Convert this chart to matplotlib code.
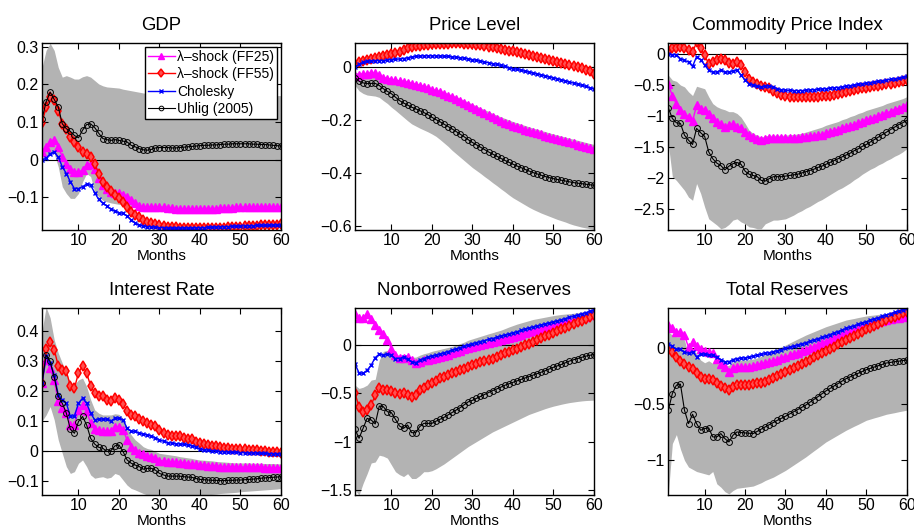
import numpy as np
import matplotlib
matplotlib.use("Agg")
import matplotlib.pyplot as plt
from matplotlib.ticker import FuncFormatter

plt.rcParams['font.family'] = ['Liberation Sans', 'DejaVu Sans']

months = np.arange(1, 61)
series_names = ['\u03bb\u2013shock (FF25)', '\u03bb\u2013shock (FF55)', 'Cholesky', 'Uhlig (2005)']

# ---- GDP
gdp_ff25 = [0.020, 0.034, 0.047, 0.051, 0.034, 0.007, -0.011, -0.024, -0.033, -0.033,
            -0.028, -0.015, -0.012, -0.024, -0.050, -0.068, -0.077, -0.086, -0.088, -0.090,
            -0.094, -0.100, -0.108, -0.116, -0.123, -0.127, -0.127, -0.127, -0.127, -0.127,
            -0.127, -0.128, -0.129, -0.131, -0.132, -0.132, -0.132, -0.132, -0.131, -0.131,
            -0.130, -0.130, -0.130, -0.130, -0.129, -0.129, -0.128, -0.128, -0.127, -0.127,
            -0.127, -0.126, -0.126, -0.126, -0.125, -0.125, -0.125, -0.125, -0.126, -0.127]
gdp_ff55 = [0.097, 0.140, 0.166, 0.157, 0.130, 0.095, 0.082, 0.060, 0.047, 0.034,
            0.020, 0.014, 0.007, -0.011, -0.037, -0.059, -0.072, -0.083, -0.094, -0.103,
            -0.112, -0.125, -0.138, -0.147, -0.153, -0.160, -0.165, -0.169, -0.171, -0.175,
            -0.177, -0.178, -0.179, -0.180, -0.181, -0.182, -0.183, -0.183, -0.183, -0.183,
            -0.183, -0.183, -0.183, -0.182, -0.182, -0.181, -0.180, -0.179, -0.178, -0.178,
            -0.177, -0.177, -0.176, -0.176, -0.175, -0.175, -0.174, -0.174, -0.173, -0.172]
gdp_chol = [0.000, 0.003, 0.016, 0.020, 0.007, -0.019, -0.037, -0.059, -0.077, -0.077,
            -0.072, -0.065, -0.068, -0.088, -0.106, -0.116, -0.123, -0.132, -0.136, -0.141,
            -0.143, -0.150, -0.160, -0.168, -0.174, -0.176, -0.178, -0.179, -0.180, -0.181,
            -0.181, -0.182, -0.182, -0.182, -0.182, -0.182, -0.182, -0.182, -0.181, -0.181,
            -0.181, -0.180, -0.180, -0.179, -0.179, -0.178, -0.178, -0.177, -0.177, -0.177,
            -0.176, -0.176, -0.176, -0.175, -0.175, -0.175, -0.175, -0.174, -0.174, -0.174]
gdp_uhlig = [0.108, 0.153, 0.179, 0.160, 0.140, 0.095, 0.082, 0.075, 0.064, 0.058,
             0.078, 0.093, 0.095, 0.085, 0.070, 0.056, 0.053, 0.051, 0.053, 0.051,
             0.049, 0.047, 0.038, 0.034, 0.029, 0.026, 0.025, 0.027, 0.031, 0.032,
             0.032, 0.032, 0.031, 0.031, 0.032, 0.033, 0.034, 0.035, 0.036, 0.037,
             0.038, 0.038, 0.039, 0.039, 0.040, 0.041, 0.041, 0.042, 0.042, 0.042,
             0.042, 0.042, 0.041, 0.041, 0.040, 0.040, 0.039, 0.038, 0.037, 0.036]
gdp_hi = [0.245, 0.290, 0.309, 0.290, 0.245, 0.219, 0.223, 0.219, 0.214, 0.214,
          0.220, 0.223, 0.219, 0.210, 0.201, 0.196, 0.193, 0.192, 0.191, 0.190,
          0.187, 0.185, 0.183, 0.181, 0.179, 0.177, 0.176, 0.175, 0.175, 0.174,
          0.174, 0.173, 0.173, 0.172, 0.172, 0.172, 0.171, 0.171, 0.171, 0.171,
          0.171, 0.170, 0.170, 0.170, 0.170, 0.170, 0.170, 0.170, 0.170, 0.170,
          0.170, 0.170, 0.170, 0.170, 0.170, 0.170, 0.170, 0.170, 0.170, 0.170]
gdp_lo = [0.007, 0.005, 0.016, 0.016, -0.019, -0.072, -0.090, -0.103, -0.103, -0.090,
          -0.059, -0.037, -0.045, -0.086, -0.099, -0.108, -0.112, -0.115, -0.117, -0.119,
          -0.121, -0.123, -0.125, -0.127, -0.129, -0.131, -0.132, -0.133, -0.134, -0.134,
          -0.135, -0.135, -0.135, -0.136, -0.136, -0.136, -0.136, -0.136, -0.136, -0.136,
          -0.136, -0.136, -0.136, -0.136, -0.136, -0.136, -0.136, -0.136, -0.135, -0.135,
          -0.135, -0.135, -0.135, -0.135, -0.134, -0.134, -0.134, -0.134, -0.134, -0.134]

# ---- Price Level
price_ff25 = [-0.035, -0.030, -0.027, -0.025, -0.023, -0.023, -0.030, -0.040, -0.044, -0.048,
              -0.050, -0.053, -0.056, -0.059, -0.063, -0.067, -0.071, -0.075, -0.080, -0.086,
              -0.091, -0.096, -0.102, -0.108, -0.114, -0.121, -0.129, -0.136, -0.144, -0.152,
              -0.160, -0.167, -0.175, -0.183, -0.190, -0.197, -0.204, -0.210, -0.216, -0.222,
              -0.227, -0.232, -0.237, -0.242, -0.247, -0.251, -0.255, -0.260, -0.264, -0.268,
              -0.272, -0.276, -0.281, -0.285, -0.289, -0.293, -0.297, -0.301, -0.306, -0.310]
price_ff55 = [0.012, 0.018, 0.022, 0.026, 0.030, 0.033, 0.036, 0.040, 0.044, 0.048,
              0.052, 0.058, 0.064, 0.070, 0.075, 0.078, 0.080, 0.082, 0.084, 0.085,
              0.086, 0.087, 0.088, 0.088, 0.089, 0.089, 0.089, 0.088, 0.087, 0.086,
              0.084, 0.082, 0.080, 0.077, 0.074, 0.071, 0.068, 0.065, 0.062, 0.059,
              0.056, 0.052, 0.049, 0.045, 0.042, 0.038, 0.035, 0.031, 0.027, 0.024,
              0.020, 0.016, 0.012, 0.009, 0.005, 0.001, -0.005, -0.011, -0.017, -0.025]
price_chol = [0.000, 0.010, 0.017, 0.021, 0.023, 0.024, 0.024, 0.024, 0.026, 0.028,
              0.029, 0.030, 0.032, 0.035, 0.038, 0.040, 0.041, 0.042, 0.042, 0.042,
              0.042, 0.041, 0.041, 0.040, 0.038, 0.037, 0.035, 0.033, 0.031, 0.028,
              0.025, 0.022, 0.019, 0.016, 0.013, 0.010, 0.006, 0.002, -0.002, -0.006,
              -0.009, -0.012, -0.016, -0.019, -0.023, -0.026, -0.030, -0.033, -0.037, -0.040,
              -0.044, -0.048, -0.052, -0.057, -0.061, -0.065, -0.069, -0.073, -0.078, -0.082]
price_uhlig = [-0.040, -0.054, -0.060, -0.063, -0.062, -0.062, -0.070, -0.082, -0.092, -0.101,
               -0.114, -0.127, -0.136, -0.144, -0.152, -0.158, -0.165, -0.172, -0.180, -0.190,
               -0.199, -0.207, -0.216, -0.225, -0.234, -0.244, -0.254, -0.264, -0.275, -0.285,
               -0.294, -0.303, -0.312, -0.321, -0.329, -0.337, -0.345, -0.353, -0.360, -0.367,
               -0.374, -0.380, -0.387, -0.393, -0.399, -0.404, -0.409, -0.414, -0.418, -0.422,
               -0.425, -0.428, -0.431, -0.434, -0.437, -0.439, -0.441, -0.443, -0.445, -0.447]
price_hi = [-0.020, -0.022, -0.024, -0.020, -0.018, -0.020, -0.028, -0.036, -0.040, -0.044,
            -0.046, -0.048, -0.051, -0.054, -0.058, -0.061, -0.065, -0.069, -0.074, -0.079,
            -0.084, -0.089, -0.094, -0.100, -0.106, -0.112, -0.119, -0.126, -0.133, -0.140,
            -0.147, -0.154, -0.161, -0.168, -0.175, -0.182, -0.188, -0.194, -0.200, -0.206,
            -0.211, -0.216, -0.221, -0.226, -0.231, -0.235, -0.240, -0.244, -0.249, -0.253,
            -0.257, -0.261, -0.265, -0.269, -0.273, -0.277, -0.281, -0.285, -0.289, -0.292]
price_lo = [-0.070, -0.090, -0.100, -0.106, -0.108, -0.110, -0.115, -0.127, -0.138, -0.152,
            -0.164, -0.177, -0.190, -0.203, -0.215, -0.223, -0.231, -0.238, -0.245, -0.253,
            -0.262, -0.274, -0.287, -0.300, -0.315, -0.328, -0.341, -0.354, -0.367, -0.380,
            -0.391, -0.402, -0.414, -0.425, -0.437, -0.448, -0.460, -0.471, -0.483, -0.494,
            -0.503, -0.512, -0.521, -0.530, -0.538, -0.545, -0.552, -0.558, -0.564, -0.570,
            -0.576, -0.581, -0.586, -0.592, -0.597, -0.601, -0.605, -0.608, -0.611, -0.614]

# ---- Commodity Price Index
comm_ff25 = [-0.48, -0.68, -0.80, -0.90, -0.96, -1.02, -1.08, -0.83, -0.88, -0.91,
             -0.96, -1.03, -1.10, -1.13, -1.17, -1.15, -1.13, -1.17, -1.20, -1.26,
             -1.31, -1.34, -1.37, -1.38, -1.37, -1.36, -1.35, -1.35, -1.35, -1.35,
             -1.35, -1.35, -1.35, -1.34, -1.34, -1.33, -1.32, -1.31, -1.30, -1.28,
             -1.26, -1.24, -1.22, -1.20, -1.18, -1.16, -1.14, -1.12, -1.10, -1.07,
             -1.05, -1.03, -1.00, -0.98, -0.95, -0.93, -0.90, -0.88, -0.85, -0.83]
comm_ff55 = [0.03, 0.09, 0.09, 0.12, 0.09, 0.07, 0.03, 0.19, 0.09, -0.02,
             -0.16, -0.13, -0.09, -0.075, -0.10, -0.145, -0.156, -0.13, -0.18, -0.29,
             -0.40, -0.45, -0.49, -0.52, -0.53, -0.54, -0.59, -0.63, -0.66, -0.68,
             -0.69, -0.70, -0.70, -0.70, -0.70, -0.70, -0.69, -0.69, -0.68, -0.68,
             -0.67, -0.66, -0.64, -0.63, -0.61, -0.60, -0.58, -0.57, -0.55, -0.54,
             -0.53, -0.52, -0.51, -0.50, -0.49, -0.48, -0.46, -0.45, -0.44, -0.42]
comm_chol = [0.00, -0.01, -0.01, -0.075, -0.10, -0.13, -0.20, -0.04, -0.09, -0.18,
             -0.26, -0.29, -0.29, -0.26, -0.29, -0.29, -0.27, -0.26, -0.34, -0.42,
             -0.48, -0.50, -0.52, -0.53, -0.52, -0.51, -0.53, -0.56, -0.575, -0.585,
             -0.585, -0.59, -0.59, -0.59, -0.585, -0.58, -0.575, -0.57, -0.565, -0.56,
             -0.55, -0.545, -0.54, -0.53, -0.52, -0.51, -0.50, -0.49, -0.48, -0.47,
             -0.46, -0.45, -0.44, -0.43, -0.42, -0.41, -0.40, -0.39, -0.375, -0.36]
comm_uhlig = [-0.87, -1.04, -1.11, -1.12, -1.31, -1.39, -1.46, -1.20, -1.27, -1.33,
              -1.58, -1.69, -1.76, -1.80, -1.87, -1.81, -1.77, -1.75, -1.78, -1.89,
              -1.94, -1.96, -1.98, -2.04, -2.05, -2.01, -1.98, -1.98, -1.98, -1.97,
              -1.96, -1.95, -1.94, -1.92, -1.90, -1.88, -1.86, -1.83, -1.81, -1.78,
              -1.75, -1.72, -1.69, -1.66, -1.63, -1.60, -1.56, -1.53, -1.49, -1.46,
              -1.42, -1.38, -1.34, -1.30, -1.26, -1.22, -1.18, -1.14, -1.11, -1.07]
comm_hi = [-0.34, -0.42, -0.44, -0.50, -0.53, -0.61, -0.67, -0.52, -0.54, -0.56,
           -0.69, -0.80, -0.85, -0.88, -0.90, -0.93, -0.93, -0.96, -1.02, -1.12,
           -1.23, -1.28, -1.31, -1.34, -1.32, -1.31, -1.31, -1.31, -1.31, -1.31,
           -1.30, -1.30, -1.29, -1.28, -1.26, -1.24, -1.22, -1.20, -1.18, -1.15,
           -1.13, -1.11, -1.09, -1.06, -1.04, -1.01, -0.99, -0.96, -0.94, -0.91,
           -0.89, -0.87, -0.85, -0.83, -0.80, -0.78, -0.76, -0.74, -0.72, -0.69]
comm_lo = [-1.45, -1.98, -2.04, -2.12, -2.20, -2.31, -2.36, -2.09, -2.25, -2.47,
           -2.66, -2.71, -2.76, -2.82, -2.80, -2.75, -2.68, -2.66, -2.71, -2.74,
           -2.79, -2.80, -2.82, -2.82, -2.74, -2.71, -2.68, -2.68, -2.67, -2.66,
           -2.63, -2.60, -2.56, -2.53, -2.49, -2.46, -2.42, -2.38, -2.35, -2.31,
           -2.27, -2.23, -2.19, -2.16, -2.12, -2.08, -2.03, -1.99, -1.94, -1.90,
           -1.86, -1.83, -1.79, -1.76, -1.72, -1.69, -1.65, -1.62, -1.58, -1.53]

# ---- Interest Rate
rate_ff25 = [0.226, 0.304, 0.276, 0.237, 0.165, 0.143, 0.126, 0.087, 0.087, 0.137,
             0.154, 0.132, 0.093, 0.072, 0.070, 0.065, 0.065, 0.068, 0.081, 0.081,
             0.070, 0.037, 0.014, 0.003, -0.006, -0.010, -0.017, -0.019, -0.025, -0.032,
             -0.034, -0.036, -0.037, -0.038, -0.039, -0.041, -0.042, -0.044, -0.045, -0.047,
             -0.048, -0.049, -0.050, -0.051, -0.052, -0.053, -0.053, -0.054, -0.054, -0.055,
             -0.055, -0.055, -0.055, -0.055, -0.055, -0.056, -0.056, -0.057, -0.057, -0.058]
rate_ff55 = [0.226, 0.340, 0.362, 0.338, 0.284, 0.271, 0.265, 0.217, 0.210, 0.260,
             0.284, 0.260, 0.217, 0.193, 0.184, 0.182, 0.171, 0.165, 0.176, 0.171,
             0.157, 0.132, 0.120, 0.115, 0.106, 0.101, 0.093, 0.087, 0.084, 0.070,
             0.059, 0.054, 0.050, 0.050, 0.050, 0.042, 0.039, 0.039, 0.031, 0.026,
             0.023, 0.020, 0.017, 0.015, 0.012, 0.011, 0.009, 0.008, 0.007, 0.006,
             0.005, 0.004, 0.003, 0.002, 0.001, 0.000, -0.002, -0.003, -0.005, -0.006]
rate_chol = [0.226, 0.315, 0.293, 0.254, 0.187, 0.171, 0.159, 0.115, 0.117, 0.159,
             0.176, 0.159, 0.126, 0.104, 0.106, 0.106, 0.106, 0.100, 0.109, 0.109,
             0.104, 0.076, 0.065, 0.065, 0.059, 0.056, 0.054, 0.050, 0.044, 0.037,
             0.032, 0.028, 0.026, 0.024, 0.023, 0.022, 0.020, 0.018, 0.012, 0.006,
             0.004, 0.002, 0.001, 0.000, -0.002, -0.003, -0.004, -0.005, -0.005, -0.006,
             -0.006, -0.007, -0.007, -0.007, -0.008, -0.008, -0.009, -0.009, -0.010, -0.010]
rate_uhlig = [0.226, 0.321, 0.299, 0.246, 0.182, 0.159, 0.126, 0.072, 0.059, 0.098,
              0.115, 0.087, 0.042, 0.023, 0.012, 0.009, -0.002, 0.001, 0.017, 0.020,
              -0.002, -0.030, -0.041, -0.047, -0.052, -0.061, -0.058, -0.058, -0.064, -0.075,
              -0.080, -0.084, -0.084, -0.084, -0.084, -0.086, -0.087, -0.088, -0.092, -0.095,
              -0.096, -0.097, -0.098, -0.098, -0.099, -0.099, -0.098, -0.098, -0.097, -0.097,
              -0.096, -0.095, -0.094, -0.093, -0.091, -0.090, -0.089, -0.088, -0.087, -0.086]
rate_hi = [0.400, 0.480, 0.444, 0.371, 0.327, 0.293, 0.265, 0.221, 0.221, 0.237,
           0.243, 0.215, 0.171, 0.137, 0.126, 0.120, 0.120, 0.120, 0.124, 0.122,
           0.109, 0.076, 0.054, 0.037, 0.026, 0.014, 0.008, 0.005, -0.002, -0.008,
           -0.010, -0.012, -0.014, -0.016, -0.019, -0.021, -0.023, -0.025, -0.028, -0.030,
           -0.031, -0.032, -0.033, -0.035, -0.036, -0.037, -0.038, -0.039, -0.040, -0.040,
           -0.040, -0.040, -0.041, -0.041, -0.041, -0.042, -0.042, -0.042, -0.043, -0.043]
rate_lo = [0.100, 0.120, 0.148, 0.104, 0.037, -0.008, -0.052, -0.075, -0.069, -0.041,
           -0.030, -0.052, -0.080, -0.091, -0.088, -0.086, -0.091, -0.088, -0.075, -0.080,
           -0.097, -0.114, -0.125, -0.130, -0.136, -0.142, -0.147, -0.150, -0.150, -0.150,
           -0.150, -0.150, -0.150, -0.150, -0.150, -0.150, -0.150, -0.150, -0.149, -0.148,
           -0.147, -0.146, -0.145, -0.144, -0.142, -0.141, -0.140, -0.139, -0.138, -0.136,
           -0.135, -0.134, -0.133, -0.132, -0.131, -0.130, -0.129, -0.128, -0.127, -0.125]

# ---- Nonborrowed Reserves
nbr_ff25 = [0.318, 0.277, 0.277, 0.318, 0.267, 0.199, 0.147, 0.113, 0.045, -0.041,
            -0.110, -0.134, -0.134, -0.127, -0.161, -0.195, -0.178, -0.161, -0.155, -0.144,
            -0.136, -0.127, -0.118, -0.106, -0.092, -0.078, -0.065, -0.051, -0.038, -0.024,
            -0.014, -0.004, 0.006, 0.017, 0.027, 0.037, 0.048, 0.058, 0.069, 0.079,
            0.091, 0.103, 0.115, 0.128, 0.140, 0.152, 0.164, 0.176, 0.187, 0.199,
            0.209, 0.219, 0.229, 0.240, 0.250, 0.262, 0.274, 0.287, 0.300, 0.312]
nbr_ff55 = [-0.503, -0.640, -0.692, -0.675, -0.623, -0.521, -0.452, -0.469, -0.469, -0.476,
            -0.497, -0.510, -0.497, -0.521, -0.545, -0.521, -0.469, -0.452, -0.418, -0.394,
            -0.372, -0.349, -0.332, -0.315, -0.298, -0.281, -0.264, -0.247, -0.230, -0.212,
            -0.199, -0.185, -0.171, -0.158, -0.144, -0.127, -0.110, -0.092, -0.075, -0.058,
            -0.041, -0.024, -0.007, 0.010, 0.027, 0.046, 0.064, 0.083, 0.101, 0.120,
            0.138, 0.156, 0.173, 0.191, 0.209, 0.227, 0.246, 0.264, 0.283, 0.301]
nbr_chol = [-0.202, -0.291, -0.298, -0.264, -0.212, -0.134, -0.099, -0.110, -0.099, -0.110,
            -0.144, -0.144, -0.127, -0.154, -0.178, -0.188, -0.161, -0.144, -0.127, -0.120,
            -0.110, -0.099, -0.085, -0.072, -0.058, -0.045, -0.031, -0.017, -0.004, 0.010,
            0.020, 0.031, 0.041, 0.052, 0.062, 0.074, 0.085, 0.097, 0.108, 0.120,
            0.132, 0.145, 0.157, 0.170, 0.182, 0.192, 0.202, 0.213, 0.223, 0.233,
            0.245, 0.256, 0.268, 0.279, 0.291, 0.303, 0.316, 0.328, 0.341, 0.353]
nbr_uhlig = [-0.873, -0.966, -0.863, -0.760, -0.777, -0.818, -0.634, -0.640, -0.692, -0.702,
             -0.771, -0.839, -0.863, -0.829, -0.908, -0.908, -0.846, -0.812, -0.812, -0.812,
             -0.790, -0.770, -0.750, -0.725, -0.700, -0.675, -0.650, -0.620, -0.590, -0.575,
             -0.555, -0.535, -0.515, -0.495, -0.475, -0.458, -0.440, -0.420, -0.405, -0.390,
             -0.375, -0.360, -0.345, -0.330, -0.315, -0.300, -0.285, -0.270, -0.252, -0.235,
             -0.220, -0.205, -0.188, -0.170, -0.157, -0.145, -0.132, -0.120, -0.111, -0.103]
nbr_hi = [-0.418, -0.452, -0.440, -0.418, -0.366, -0.358, -0.161, -0.070, -0.060, -0.080,
          -0.100, -0.110, -0.110, -0.120, -0.130, -0.130, -0.110, -0.095, -0.085, -0.070,
          -0.060, -0.050, -0.040, -0.030, -0.020, -0.005, 0.010, 0.025, 0.045, 0.058,
          0.071, 0.084, 0.097, 0.110, 0.122, 0.135, 0.147, 0.163, 0.180, 0.195,
          0.210, 0.222, 0.234, 0.246, 0.258, 0.266, 0.274, 0.282, 0.290, 0.298,
          0.304, 0.310, 0.314, 0.318, 0.322, 0.328, 0.334, 0.340, 0.346, 0.353]
nbr_lo = [-1.500, -1.550, -1.430, -1.330, -1.220, -1.210, -1.140, -1.150, -1.170, -1.240,
          -1.310, -1.340, -1.360, -1.330, -1.380, -1.380, -1.350, -1.310, -1.310, -1.300,
          -1.280, -1.255, -1.230, -1.200, -1.170, -1.140, -1.110, -1.080, -1.050, -1.025,
          -1.000, -0.975, -0.950, -0.925, -0.900, -0.880, -0.860, -0.840, -0.820, -0.800,
          -0.780, -0.760, -0.740, -0.720, -0.705, -0.690, -0.675, -0.660, -0.647, -0.635,
          -0.625, -0.615, -0.606, -0.598, -0.592, -0.586, -0.581, -0.577, -0.575, -0.573]

# ---- Total Reserves
tr_ff25 = [0.209, 0.179, 0.149, 0.149, 0.119, 0.009, 0.060, 0.021, -0.009, -0.021,
           -0.030, -0.045, -0.090, -0.140, -0.170, -0.209, -0.179, -0.170, -0.170, -0.170,
           -0.165, -0.158, -0.150, -0.142, -0.134, -0.122, -0.111, -0.099, -0.087, -0.075,
           -0.063, -0.051, -0.039, -0.027, -0.015, 0.000, 0.015, 0.030, 0.045, 0.060,
           0.075, 0.090, 0.104, 0.119, 0.134, 0.147, 0.160, 0.174, 0.187, 0.200,
           0.211, 0.222, 0.232, 0.243, 0.254, 0.261, 0.268, 0.276, 0.283, 0.290]
tr_ff55 = [-0.015, -0.030, -0.081, -0.110, -0.140, -0.164, -0.188, -0.218, -0.254, -0.269,
           -0.269, -0.284, -0.313, -0.337, -0.358, -0.373, -0.343, -0.328, -0.328, -0.328,
           -0.324, -0.319, -0.312, -0.306, -0.299, -0.282, -0.265, -0.248, -0.228, -0.209,
           -0.191, -0.173, -0.155, -0.137, -0.119, -0.099, -0.080, -0.060, -0.041, -0.021,
           -0.002, 0.017, 0.036, 0.056, 0.075, 0.094, 0.113, 0.132, 0.151, 0.170,
           0.187, 0.204, 0.220, 0.237, 0.254, 0.269, 0.284, 0.299, 0.313, 0.328]
tr_chol = [0.039, 0.021, -0.009, -0.009, -0.030, -0.045, -0.030, -0.075, -0.051, -0.051,
           -0.060, -0.060, -0.081, -0.099, -0.119, -0.119, -0.099, -0.090, -0.087, -0.084,
           -0.077, -0.069, -0.061, -0.053, -0.045, -0.037, -0.029, -0.021, -0.010, 0.000,
           0.010, 0.020, 0.031, 0.041, 0.051, 0.063, 0.075, 0.087, 0.098, 0.110,
           0.124, 0.138, 0.151, 0.165, 0.179, 0.191, 0.203, 0.215, 0.227, 0.239,
           0.251, 0.263, 0.275, 0.287, 0.299, 0.311, 0.323, 0.335, 0.346, 0.358]
tr_uhlig = [-0.552, -0.403, -0.328, -0.319, -0.552, -0.672, -0.588, -0.672, -0.731, -0.716,
            -0.710, -0.791, -0.791, -0.761, -0.806, -0.836, -0.776, -0.746, -0.752, -0.755,
            -0.758, -0.761, -0.741, -0.721, -0.701, -0.681, -0.662, -0.642, -0.624, -0.606,
            -0.586, -0.566, -0.547, -0.527, -0.507, -0.482, -0.457, -0.432, -0.406, -0.380,
            -0.358, -0.336, -0.314, -0.292, -0.270, -0.254, -0.238, -0.222, -0.206, -0.190,
            -0.178, -0.166, -0.154, -0.142, -0.130, -0.125, -0.119, -0.114, -0.109, -0.104]
tr_hi = [0.149, 0.119, 0.104, 0.104, 0.075, -0.060, 0.000, -0.045, -0.104, -0.128,
         -0.110, -0.134, -0.134, -0.140, -0.164, -0.150, -0.120, -0.104, -0.104, -0.104,
         -0.100, -0.095, -0.085, -0.070, -0.055, -0.035, -0.015, 0.000, 0.015, 0.030,
         0.048, 0.066, 0.084, 0.101, 0.119, 0.134, 0.149, 0.164, 0.179, 0.194,
         0.206, 0.218, 0.230, 0.242, 0.254, 0.261, 0.268, 0.276, 0.283, 0.290,
         0.295, 0.299, 0.304, 0.308, 0.313, 0.319, 0.325, 0.331, 0.337, 0.343]
tr_lo = [-1.300, -0.850, -0.770, -0.900, -1.000, -1.060, -1.080, -1.100, -1.110, -1.120,
         -1.130, -1.100, -1.210, -1.240, -1.280, -1.300, -1.270, -1.250, -1.245, -1.240,
         -1.235, -1.230, -1.215, -1.200, -1.180, -1.165, -1.150, -1.130, -1.110, -1.090,
         -1.066, -1.042, -1.018, -0.994, -0.970, -0.943, -0.916, -0.890, -0.863, -0.836,
         -0.815, -0.794, -0.773, -0.752, -0.731, -0.713, -0.695, -0.678, -0.660, -0.642,
         -0.631, -0.620, -0.610, -0.599, -0.588, -0.581, -0.574, -0.566, -0.559, -0.552]

# title, series, band, ylim, yticks, axes rect
panels = [
    ('GDP', [gdp_ff25, gdp_ff55, gdp_chol, gdp_uhlig], gdp_lo, gdp_hi,
     (-0.187, 0.31), [-0.1, 0, 0.1, 0.2, 0.3], [0.046, 0.5636, 0.2614, 0.355]),
    ('Price Level', [price_ff25, price_ff55, price_chol, price_uhlig], price_lo, price_hi,
     (-0.616, 0.091), [-0.6, -0.4, -0.2, 0], [0.3884, 0.5636, 0.2612, 0.355]),
    ('Commodity Price Index', [comm_ff25, comm_ff55, comm_chol, comm_uhlig], comm_lo, comm_hi,
     (-2.84, 0.18), [-2.5, -2, -1.5, -1, -0.5, 0], [0.7312, 0.5636, 0.2608, 0.355]),
    ('Interest Rate', [rate_ff25, rate_ff55, rate_chol, rate_uhlig], rate_lo, rate_hi,
     (-0.147, 0.477), [-0.1, 0, 0.1, 0.2, 0.3, 0.4], [0.046, 0.0607, 0.2614, 0.355]),
    ('Nonborrowed Reserves', [nbr_ff25, nbr_ff55, nbr_chol, nbr_uhlig], nbr_lo, nbr_hi,
     (-1.55, 0.377), [-1.5, -1, -0.5, 0], [0.3884, 0.0607, 0.2612, 0.355]),
    ('Total Reserves', [tr_ff25, tr_ff55, tr_chol, tr_uhlig], tr_lo, tr_hi,
     (-1.31, 0.362), [-1, -0.5, 0], [0.7312, 0.0607, 0.2608, 0.355]),
]

styles = [
    dict(color='#ff00ff', marker='^', ms=5.5, mfc='#ff00ff', mec='#ff00ff', lw=1.0),
    dict(color='#ff0000', marker='d', ms=5.5, mfc='#ff5050', mec='#ff0000', mew=1.1, lw=1.0),
    dict(color='#0000ff', marker='x', ms=3, mew=1.0, lw=1.0),
    dict(color='black', marker='o', ms=4.2, mfc='none', mec='black', mew=0.7, lw=0.8),
]

fmt = FuncFormatter(lambda v, p: ('%g' % v).replace('-', '\u2212'))

fig = plt.figure(figsize=(9.14, 5.27), dpi=100)
for i, (title, series, lo, hi, ylim, yticks, rect) in enumerate(panels):
    ax = fig.add_axes(rect)
    ax.fill_between(months, lo, hi, color='#b3b3b3', lw=0)
    ax.axhline(0, color='black', lw=0.8)
    for s, st, name in zip(series, styles, series_names):
        ax.plot(months, s, label=name, **st)
    ax.set_xlim(1, 60)
    ax.set_ylim(*ylim)
    ax.set_xticks([10, 20, 30, 40, 50, 60])
    ax.set_yticks(yticks)
    ax.yaxis.set_major_formatter(fmt)
    ax.tick_params(direction='in', top=True, right=True, length=4, labelsize=11.5, pad=2.5)
    for sp in ax.spines.values():
        sp.set_linewidth(1.0)
    ax.set_title(title, fontsize=13.3, pad=9)
    ax.set_xlabel('Months', fontsize=11, labelpad=0.5)
    if i == 0:
        leg = ax.legend(loc='upper right', fontsize=10, frameon=True, fancybox=False,
                        edgecolor='black', framealpha=1, borderaxespad=0.3,
                        handlelength=1.95, handletextpad=0.15, labelspacing=0.25,
                        borderpad=0.2, markerscale=0.8)
        leg.get_frame().set_linewidth(1.0)

fig.savefig('out.png', dpi=100)
